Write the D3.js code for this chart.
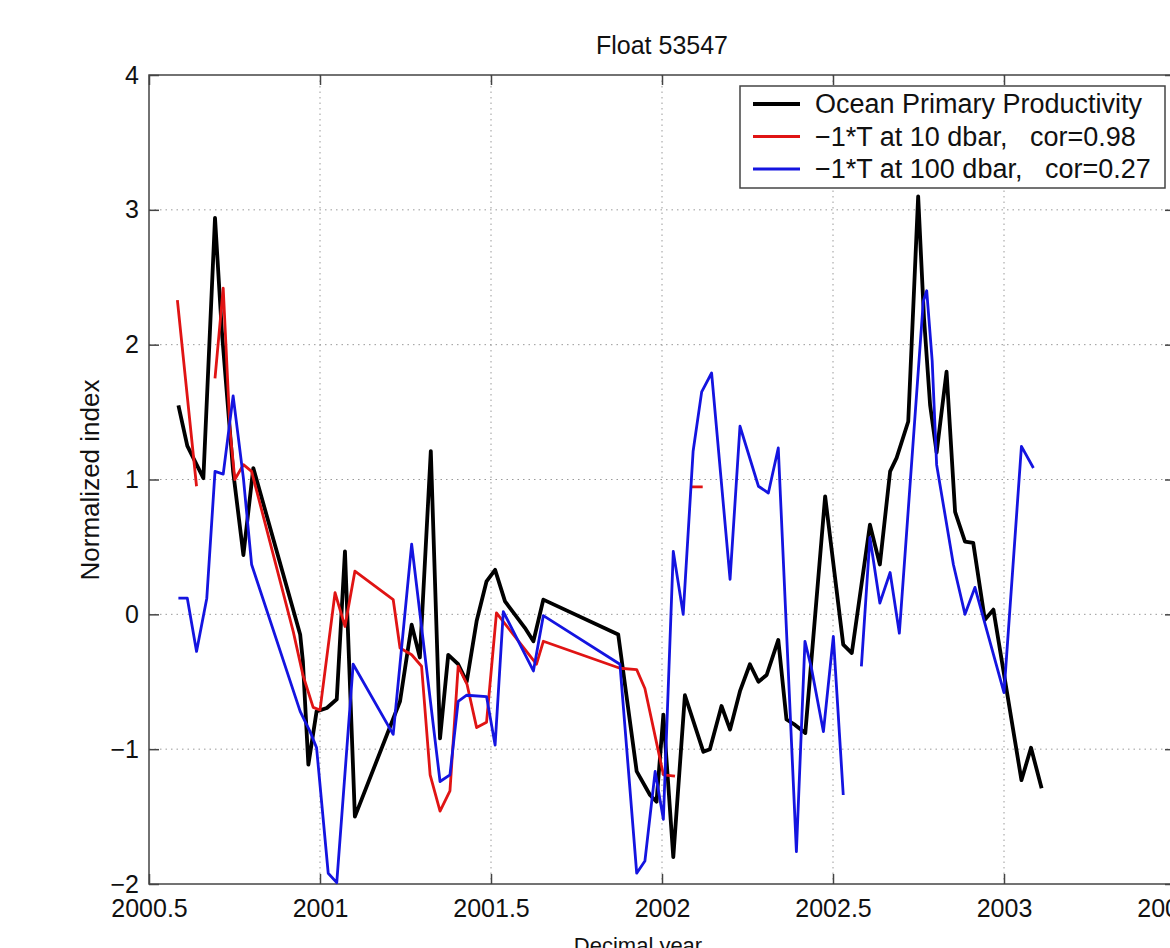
<!DOCTYPE html>
<html>
<head>
<meta charset="utf-8">
<script src="https://cdn.jsdelivr.net/npm/d3@7"></script>
<style>
  body { margin: 0; background: #fff; overflow: hidden; }
  svg { display: block; font-family: "Liberation Sans", Arial, Helvetica, sans-serif; }
</style>
</head>
<body>
<svg id="chart"></svg>
<script>
// Ocean Primary Productivity (black)
const ppYear = [2000.586, 2000.612, 2000.659, 2000.693, 2000.713, 2000.746, 2000.776, 2000.805, 2000.942, 2000.950,
  2000.966, 2000.990, 2001.020, 2001.049, 2001.073, 2001.102, 2001.234, 2001.268, 2001.292, 2001.324,
  2001.351, 2001.375, 2001.404, 2001.429, 2001.458, 2001.487, 2001.512, 2001.541, 2001.599, 2001.624,
  2001.653, 2001.872, 2001.926, 2001.965, 2001.984, 2002.004, 2002.033, 2002.067, 2002.121, 2002.140,
  2002.174, 2002.199, 2002.228, 2002.257, 2002.282, 2002.306, 2002.340, 2002.364, 2002.389, 2002.419,
  2002.477, 2002.530, 2002.555, 2002.608, 2002.637, 2002.667, 2002.686, 2002.720, 2002.749, 2002.766,
  2002.784, 2002.803, 2002.832, 2002.857, 2002.886, 2002.910, 2002.944, 2002.969, 2003.051, 2003.079,
  2003.110];
const ppValue = [1.55, 1.25, 1.01, 2.94, 2.1, 1.06, 0.44, 1.085, -0.15, -0.35,
  -1.115, -0.72, -0.695, -0.63, 0.467, -1.5, -0.645, -0.077, -0.32, 1.21,
  -0.92, -0.3, -0.37, -0.5, -0.05, 0.245, 0.33, 0.096, -0.1, -0.2,
  0.109, -0.15, -1.165, -1.34, -1.39, -0.744, -1.8, -0.6, -1.02, -1.0,
  -0.68, -0.855, -0.57, -0.37, -0.5, -0.45, -0.19, -0.78, -0.82, -0.88,
  0.875, -0.225, -0.287, 0.665, 0.37, 1.06, 1.16, 1.43, 3.1, 2.2,
  1.55, 1.2, 1.8, 0.76, 0.54, 0.53, -0.04, 0.035, -1.23, -0.99,
  -1.29];

// -1*T at 10 dbar (red), null = gap
const t10Year = [2000.583, 2000.639, 2000.66, 2000.693, 2000.717, 2000.737, 2000.751, 2000.776, 2000.800, 2000.922,
  2000.950, 2000.980, 2001.000, 2001.044, 2001.073, 2001.102, 2001.214, 2001.234, 2001.268, 2001.297,
  2001.322, 2001.351, 2001.380, 2001.404, 2001.430, 2001.458, 2001.487, 2001.516, 2001.633, 2001.653,
  2001.877, 2001.926, 2001.950, 2001.994, 2002.004, 2002.038, 2002.06, 2002.087, 2002.119];
const t10Value = [2.33, 0.95, null, 1.75, 2.42, 1.36, 1.0, 1.11, 1.06, -0.13,
  -0.45, -0.69, -0.71, 0.16, -0.09, 0.32, 0.11, -0.25, -0.3, -0.385,
  -1.19, -1.46, -1.31, -0.385, -0.52, -0.84, -0.8, 0.01, -0.37, -0.2,
  -0.4, -0.41, -0.55, -1.07, -1.19, -1.2, null, 0.945, 0.945];

// -1*T at 100 dbar (blue), null = gap
const t100Year = [2000.586, 2000.612, 2000.639, 2000.669, 2000.693, 2000.717, 2000.746, 2000.776, 2000.800, 2000.942,
  2000.971, 2000.990, 2001.024, 2001.049, 2001.097, 2001.214, 2001.268, 2001.351, 2001.380, 2001.404,
  2001.429, 2001.487, 2001.512, 2001.536, 2001.624, 2001.653, 2001.877, 2001.926, 2001.950, 2001.980,
  2002.004, 2002.033, 2002.062, 2002.091, 2002.116, 2002.145, 2002.199, 2002.228, 2002.282, 2002.311,
  2002.340, 2002.393, 2002.418, 2002.437, 2002.472, 2002.501, 2002.530, 2002.556, 2002.583, 2002.608,
  2002.637, 2002.667, 2002.694, 2002.764, 2002.774, 2002.790, 2002.803, 2002.852, 2002.886, 2002.915,
  2003.000, 2003.051, 2003.086];
const t100Value = [0.12, 0.12, -0.275, 0.12, 1.06, 1.04, 1.62, 1.01, 0.37, -0.72,
  -0.87, -0.99, -1.92, -1.99, -0.37, -0.89, 0.52, -1.24, -1.19, -0.645,
  -0.6, -0.61, -0.97, 0.02, -0.42, -0.01, -0.37, -1.92, -1.83, -1.165,
  -1.52, 0.467, 0.0, 1.21, 1.65, 1.79, 0.26, 1.395, 0.95, 0.9,
  1.234, -1.76, -0.2, -0.4, -0.87, -0.163, -1.34, null, -0.386, 0.57,
  0.084, 0.31, -0.14, 2.32, 2.4, 1.88, 1.11, 0.37, 0.0, 0.2,
  -0.58, 1.246, 1.085];

const xTicks = [2000.5, 2001, 2001.5, 2002, 2002.5, 2003, 2003.5];
const yTicks = [-2, -1, 0, 1, 2, 3, 4];
const legendLabels = ['Ocean Primary Productivity', '\u22121*T at 10 dbar,   cor=0.98', '\u22121*T at 100 dbar,   cor=0.27'];
const seriesColors = ['#000000', '#e01414', '#1414e0'];

const width = 1170, height = 948;
const margin = { left: 149, top: 75 };
const plotW = 1026, plotH = 809;

const svg = d3.select('#chart').attr('width', width).attr('height', height);

const x = d3.scaleLinear().domain([2000.5, 2003.5]).range([margin.left, margin.left + plotW]);
const y = d3.scaleLinear().domain([-2, 4]).range([margin.top + plotH, margin.top]);

// grid
const grid = svg.append('g').attr('stroke', '#9a9a9a').attr('stroke-width', 1).attr('stroke-dasharray', '1.5,4');
grid.selectAll('.gx').data(xTicks.slice(1, -1)).enter().append('line')
  .attr('x1', d => x(d)).attr('x2', d => x(d)).attr('y1', y(4)).attr('y2', y(-2));
grid.selectAll('.gy').data(yTicks.slice(1, -1)).enter().append('line')
  .attr('y1', d => y(d)).attr('y2', d => y(d)).attr('x1', x(2000.5)).attr('x2', x(2003.5));

// axes
function styleAxis(g) {
  g.selectAll('path, line').attr('stroke', '#444').attr('stroke-width', 1.5);
  g.selectAll('text').attr('fill', '#111').attr('font-size', 25);
}
svg.append('g').attr('transform', `translate(0,${y(-2)})`)
  .call(d3.axisBottom(x).tickValues(xTicks).tickSizeInner(-10).tickSizeOuter(0).tickPadding(15).tickFormat(d3.format('')))
  .call(styleAxis).call(g => g.select('.domain').remove());
svg.append('g').attr('transform', `translate(0,${y(4)})`)
  .call(d3.axisTop(x).tickValues(xTicks).tickSizeInner(-10).tickSizeOuter(0).tickFormat(''))
  .call(styleAxis).call(g => g.select('.domain').remove());
svg.append('g').attr('transform', `translate(${x(2000.5)},0)`)
  .call(d3.axisLeft(y).tickValues(yTicks).tickSizeInner(-10).tickSizeOuter(0).tickPadding(10).tickFormat(d => d < 0 ? '\u2212' + Math.abs(d) : d))
  .call(styleAxis).call(g => g.select('.domain').remove());
svg.append('g').attr('transform', `translate(${x(2003.5)},0)`)
  .call(d3.axisRight(y).tickValues(yTicks).tickSizeInner(-10).tickSizeOuter(0).tickFormat(''))
  .call(styleAxis).call(g => g.select('.domain').remove());

svg.append('rect')
  .attr('x', x(2000.5)).attr('y', y(4))
  .attr('width', x(2003.5) - x(2000.5)).attr('height', y(-2) - y(4))
  .attr('fill', 'none').attr('stroke', '#444').attr('stroke-width', 1.5);

// series
const line = d3.line()
  .defined(d => d[1] !== null)
  .x(d => x(d[0]))
  .y(d => y(d[1]));

const series = [
  { data: d3.zip(ppYear, ppValue), color: seriesColors[0], w: 3.8 },
  { data: d3.zip(t10Year, t10Value), color: seriesColors[1], w: 2.8 },
  { data: d3.zip(t100Year, t100Value), color: seriesColors[2], w: 2.8 }
];

svg.append('g').selectAll('path').data(series).enter().append('path')
  .attr('d', d => line(d.data))
  .attr('fill', 'none')
  .attr('stroke', d => d.color)
  .attr('stroke-width', d => d.w)
  .attr('stroke-linejoin', 'round');

// legend
const legend = svg.append('g');
legend.append('rect').attr('x', 740).attr('y', 86).attr('width', 425).attr('height', 102)
  .attr('fill', '#fff').attr('stroke', '#444').attr('stroke-width', 1.5);
const rows = legend.selectAll('.row').data(legendLabels).enter().append('g')
  .attr('transform', (d, i) => `translate(0,${104 + i * 32.5})`);
rows.append('line').attr('x1', 753).attr('x2', 800)
  .attr('stroke', (d, i) => seriesColors[i]).attr('stroke-width', (d, i) => i === 0 ? 3.8 : 3);
rows.append('text').attr('x', 815).attr('dy', '0.35em')
  .attr('font-size', 27).attr('fill', '#111').style('white-space', 'pre')
  .text(d => d);

// titles
svg.append('text').attr('x', x(2002)).attr('y', 54).attr('text-anchor', 'middle')
  .attr('font-size', 25).attr('fill', '#111').text('Float 53547');
svg.append('text').attr('transform', 'translate(99,480) rotate(-90)').attr('text-anchor', 'middle')
  .attr('font-size', 26).attr('fill', '#111').text('Normalized index');
svg.append('text').attr('x', 638).attr('y', 953).attr('text-anchor', 'middle')
  .attr('font-size', 22).attr('fill', '#111').text('Decimal year');
</script>
</body>
</html>
